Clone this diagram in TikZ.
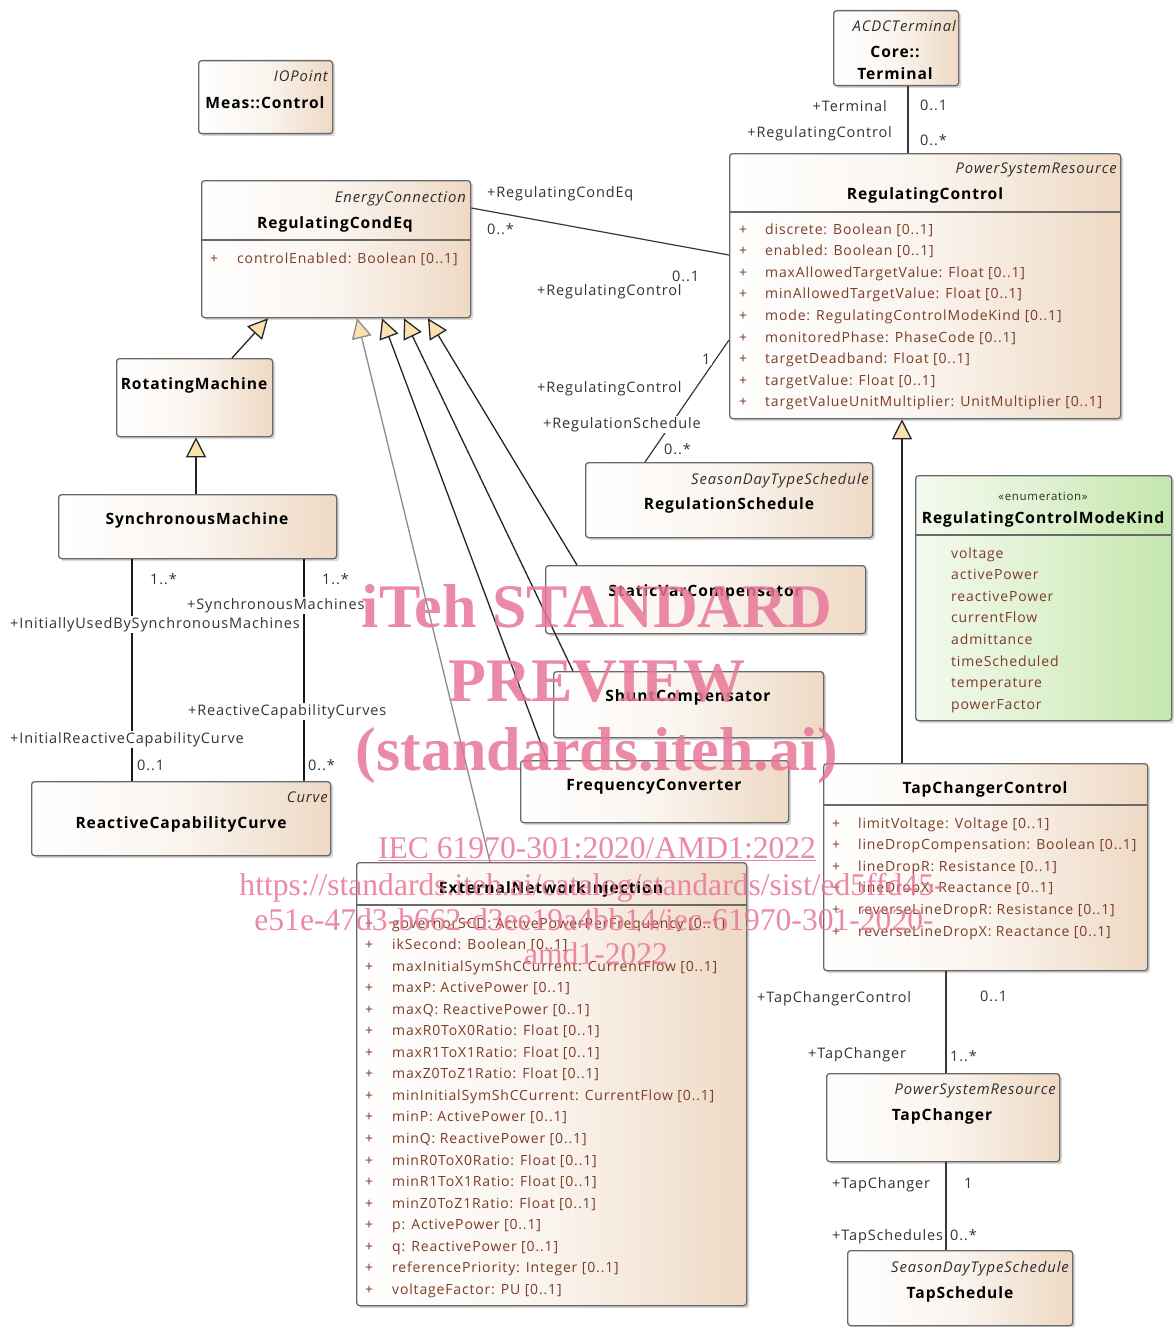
\documentclass[tikz,border=0pt]{standalone}
\usepackage{fontspec}
\setmainfont{Open Sans}
\newfontfamily\umlf[LetterSpace=6]{Open Sans}
\newfontfamily\wmf{Liberation Serif}
\usetikzlibrary{arrows.meta,shadows,calc}
\definecolor{boxline}{RGB}{105,105,105}
\definecolor{boxtan}{RGB}{238,217,196}
\definecolor{enumL}{RGB}{244,250,238}
\definecolor{enumR}{RGB}{196,230,172}
\definecolor{attrC}{RGB}{125,60,40}
\definecolor{roleC}{RGB}{50,50,62}
\definecolor{stereoC}{RGB}{45,45,45}
\definecolor{genfill}{RGB}{250,226,172}
\definecolor{pinkC}{RGB}{232,118,152}
\tikzset{
  umlbox/.style={draw=boxline, line width=1.3pt, rounded corners=3pt,
    left color=white, right color=boxtan, middle color=white!72!boxtan,
    drop shadow={shadow xshift=2.5pt, shadow yshift=-2.5pt, opacity=0.3},
    inner sep=0pt, anchor=north west},
  enumbox/.style={umlbox, left color=enumL, right color=enumR, middle color=enumL!55!enumR},
  sepline/.style={draw=boxline, line width=1.1pt},
  cname/.style={font=\umlf\bfseries\fontsize{15.6}{18}\selectfont, anchor=mid, inner sep=0pt, text=black, yshift=-3.5pt},
  stereo/.style={font=\umlf\itshape\fontsize{14.8}{17}\selectfont, anchor=mid east, inner sep=0pt, text=stereoC, yshift=-3.5pt},
  attr/.style={font=\umlf\fontsize{14}{17}\selectfont, anchor=mid west, inner sep=0pt, text=attrC, yshift=-3.5pt},
  role/.style={font=\umlf\fontsize{14.5}{17}\selectfont, anchor=mid west, inner sep=1pt, fill=white, text=roleC, yshift=-3.5pt},
  assoc/.style={draw=black!78, line width=1.2pt},
  gen/.style={draw=black!85, line width=1.3pt, -{Triangle[length=20pt, width=20pt, fill=genfill]}},
  gengray/.style={gen, draw=black!45},
  wmbig/.style={font=\wmf\bfseries\fontsize{62}{70}\selectfont, text=pinkC, text opacity=0.85, anchor=base, inner sep=0pt},
  wmsmall/.style={font=\wmf\fontsize{31.6}{36}\selectfont, text=pinkC, text opacity=0.85, anchor=base, inner sep=0pt}
}
\begin{document}
\begin{tikzpicture}[x=1pt, y=-1pt]
\useasboundingbox (0,0) rectangle (1173,1327);
\fill[white] (0,0) rectangle (1173,1327);

% ---------- boxes ----------
\node[umlbox, minimum width=134pt, minimum height=73pt] (meas) at (198,60) {};
\node[stereo] (measS) at (328,75) {IOPoint};
\node[cname] (measN) at (265,102) {Meas::Control};

\node[umlbox, minimum width=125pt, minimum height=75pt] (term) at (833,10) {};
\node[stereo] (termS) at (956,25) {ACDCTerminal};
\node[cname] (termN1) at (895,51) {Core::};
\node[cname] (termN2) at (895,73) {Terminal};

\node[umlbox, minimum width=391pt, minimum height=265pt] (rc) at (729,153) {};
\node[stereo] (rcS) at (1117,167) {PowerSystemResource};
\node[cname] (rcN) at (925,193) {RegulatingControl};
\draw[sepline] (729,212) -- (1120,212);
\foreach \t [count=\i from 0] in {discrete: Boolean [0..1], enabled: Boolean [0..1], maxAllowedTargetValue: Float [0..1], minAllowedTargetValue: Float [0..1], mode: RegulatingControlModeKind [0..1], monitoredPhase: PhaseCode [0..1], targetDeadband: Float [0..1], targetValue: Float [0..1], targetValueUnitMultiplier: UnitMultiplier [0..1]}{
  \node[attr] (rcp\i) at (739,{228+21.6*\i}) {+};
  \node[attr] (rca\i) at (765,{228+21.6*\i}) {\t};
}

\node[umlbox, minimum width=269pt, minimum height=137pt] (rce) at (201,180) {};
\node[stereo] (rceS) at (466,196) {EnergyConnection};
\node[cname] (rceN) at (335,222) {RegulatingCondEq};
\draw[sepline] (201,240) -- (470,240);
\node[attr] (rcep) at (210,257) {+};
\node[attr] (rcea) at (237,257) {controlEnabled: Boolean [0..1]};

\node[umlbox, minimum width=156pt, minimum height=78pt] (rm) at (116,358) {};
\node[cname] (rmN) at (194,383) {RotatingMachine};

\node[umlbox, minimum width=278pt, minimum height=64pt] (sm) at (58,494) {};
\node[cname] (smN) at (197,518) {SynchronousMachine};

\node[umlbox, minimum width=299pt, minimum height=74pt] (rcc) at (31,781) {};
\node[stereo] (rccS) at (328,796) {Curve};
\node[cname] (rccN) at (181,822) {ReactiveCapabilityCurve};

\node[umlbox, minimum width=287pt, minimum height=75pt] (rs) at (585,462) {};
\node[stereo] (rsS) at (869,478) {SeasonDayTypeSchedule};
\node[cname] (rsN) at (729,503) {RegulationSchedule};

\node[umlbox, minimum width=320pt, minimum height=68pt] (svc) at (545,565) {};
\node[cname] (svcN) at (705,590) {StaticVarCompensator};

\node[umlbox, minimum width=270pt, minimum height=66pt] (shc) at (553,671) {};
\node[cname] (shcN) at (688,695) {ShuntCompensator};

\node[umlbox, minimum width=268pt, minimum height=62pt] (fc) at (520,760) {};
\node[cname] (fcN) at (654,784) {FrequencyConverter};

\node[umlbox, minimum width=390pt, minimum height=443pt] (eni) at (356,862) {};
\node[cname] (eniN) at (551,887) {ExternalNetworkInjection};
\draw[sepline] (356,905) -- (746,905);
\foreach \t [count=\i from 0] in {governorSCD: ActivePowerPerFrequency [0..1], ikSecond: Boolean [0..1], maxInitialSymShCCurrent: CurrentFlow [0..1], maxP: ActivePower [0..1], maxQ: ReactivePower [0..1], maxR0ToX0Ratio: Float [0..1], maxR1ToX1Ratio: Float [0..1], maxZ0ToZ1Ratio: Float [0..1], minInitialSymShCCurrent: CurrentFlow [0..1], minP: ActivePower [0..1], minQ: ReactivePower [0..1], minR0ToX0Ratio: Float [0..1], minR1ToX1Ratio: Float [0..1], minZ0ToZ1Ratio: Float [0..1], p: ActivePower [0..1], q: ReactivePower [0..1], referencePriority: Integer [0..1], voltageFactor: PU [0..1]}{
  \node[attr] (enip\i) at (365,{922+21.53*\i}) {+};
  \node[attr] (enia\i) at (392,{922+21.53*\i}) {\t};
}

\node[umlbox, minimum width=324pt, minimum height=207pt] (tcc) at (823,763) {};
\node[cname] (tccN) at (985,787) {TapChangerControl};
\draw[sepline] (823,805) -- (1147,805);
\foreach \t [count=\i from 0] in {limitVoltage: Voltage [0..1], lineDropCompensation: Boolean [0..1], lineDropR: Resistance [0..1], lineDropX: Reactance [0..1], reverseLineDropR: Resistance [0..1], reverseLineDropX: Reactance [0..1]}{
  \node[attr] (tccp\i) at (832,{822+21.6*\i}) {+};
  \node[attr] (tcca\i) at (858,{822+21.6*\i}) {\t};
}

\node[umlbox, minimum width=233pt, minimum height=88pt] (tc) at (826,1073) {};
\node[stereo] (tcS) at (1056,1088) {PowerSystemResource};
\node[cname] (tcN) at (942,1114) {TapChanger};

\node[umlbox, minimum width=225pt, minimum height=75pt] (ts) at (847,1250) {};
\node[stereo] (tsS) at (1069,1266) {SeasonDayTypeSchedule};
\node[cname] (tsN) at (960,1292) {TapSchedule};

\node[enumbox, minimum width=256pt, minimum height=245pt] (enum) at (915,475) {};
\node[font=\umlf\fontsize{11.5}{14}\selectfont, text=stereoC, inner sep=0pt, anchor=mid, yshift=-3pt] (enumS) at (1043,495) {«enumeration»};
\node[cname] (enumN) at (1043,517) {RegulatingControlModeKind};
\draw[sepline] (915,535) -- (1171,535);
\foreach \t [count=\i from 0] in {voltage, activePower, reactivePower, currentFlow, admittance, timeScheduled, temperature, powerFactor}{
  \node[attr] (enumv\i) at (951,{552+21.6*\i}) {\t};
}

% ---------- associations ----------
\draw[assoc] ($(term.south west)+(75,0)$) -- ($(rc.north west)+(179,0)$);
\draw[assoc] ($(rce.north east)+(0,28)$) -- ($(rc.north west)+(0,102)$);
\draw[assoc] ($(rc.north west)+(0,187)$) -- ($(rs.north west)+(60,0)$);
\draw[assoc, draw=black!90, line width=1.5pt] ($(sm.south west)+(74,0)$) -- ($(rcc.north west)+(101,0)$);
\draw[assoc, draw=black!90, line width=1.5pt] ($(sm.south west)+(246,0)$) -- ($(rcc.north west)+(273,0)$);
\draw[assoc] ($(tcc.south west)+(123,0)$) -- ($(tc.north west)+(120,0)$);
\draw[assoc] ($(tc.south west)+(120,0)$) -- ($(ts.north west)+(99,0)$);

% ---------- generalizations ----------
\draw[gen] ($(rm.north west)+(116,0)$) -- ($(rce.south west)+(67,0)$);
\draw[gen] ($(sm.north west)+(138,0)$) -- ($(rm.south west)+(80,0)$);
\draw[gengray] ($(eni.north west)+(134,0)$) -- ($(rce.south west)+(156,0)$);
\draw[gen] ($(fc.north west)+(27,0)$) -- ($(rce.south west)+(181,0)$);
\draw[gen] ($(shc.north west)+(20,0)$) -- ($(rce.south west)+(203,0)$);
\draw[gen] ($(svc.north west)+(32,0)$) -- ($(rce.south west)+(227,0)$);
\draw[gen] ($(tcc.north west)+(79,0)$) -- ($(rc.south west)+(173,0)$);

% ---------- role names and multiplicities ----------
\node[role, anchor=mid east] (l1) at (888,105) {+Terminal};
\node[role] (l2) at (919,104) {0..1};
\node[role, anchor=mid east] (l3) at (893,131) {+RegulatingControl};
\node[role] (l4) at (919,139) {0..*};
\node[role] (l5) at (486,191) {+RegulatingCondEq};
\node[role] (l6) at (486,228) {0..*};
\node[role] (l7) at (671,275) {0..1};
\node[role] (l8) at (536,289) {+RegulatingControl};
\node[role] (l9) at (701,358) {1};
\node[role] (l10) at (536,386) {+RegulatingControl};
\node[role] (l11) at (542,422) {+RegulationSchedule};
\node[role] (l12) at (663,448) {0..*};
\node[role] (l13) at (149,578) {1..*};
\node[role] (l14) at (321,578) {1..*};
\node[role] (l15) at (186,603) {+SynchronousMachines};
\node[role] (l16) at (9,622) {+InitiallyUsedBySynchronousMachines};
\node[role] (l17) at (187,709) {+ReactiveCapabilityCurves};
\node[role] (l18) at (9,737) {+InitialReactiveCapabilityCurve};
\node[role] (l19) at (136,764) {0..1};
\node[role] (l20) at (307,764) {0..*};
\node[role] (l21) at (756,996) {+TapChangerControl};
\node[role] (l22) at (979,995) {0..1};
\node[role] (l23) at (807,1052) {+TapChanger};
\node[role] (l24) at (949,1055) {1..*};
\node[role] (l25) at (831,1182) {+TapChanger};
\node[role] (l26) at (963,1182) {1};
\node[role] (l27) at (831,1234) {+TapSchedules};
\node[role] (l28) at (949,1234) {0..*};

% ---------- watermark ----------
\node[wmbig] (wm1) at (597,627) {iTeh STANDARD};
\node[wmbig] (wm2) at (597,701) {PREVIEW};
\node[wmbig] (wm3) at (597,770) {(standards.iteh.ai)};
\node[wmsmall] (wm4) at (597,858) {\underline{IEC 61970-301:2020/AMD1:2022}};
\node[wmsmall] (wm5) at (592,895) {https://standards.iteh.ai/catalog/standards/sist/ed5ffd45-};
\node[wmsmall] (wm6) at (594,930) {e51e-47d3-b662-d3ee19a4bb14/iec-61970-301-2020-};
\node[wmsmall] (wm7) at (596,964) {amd1-2022};
\end{tikzpicture}
\end{document}
